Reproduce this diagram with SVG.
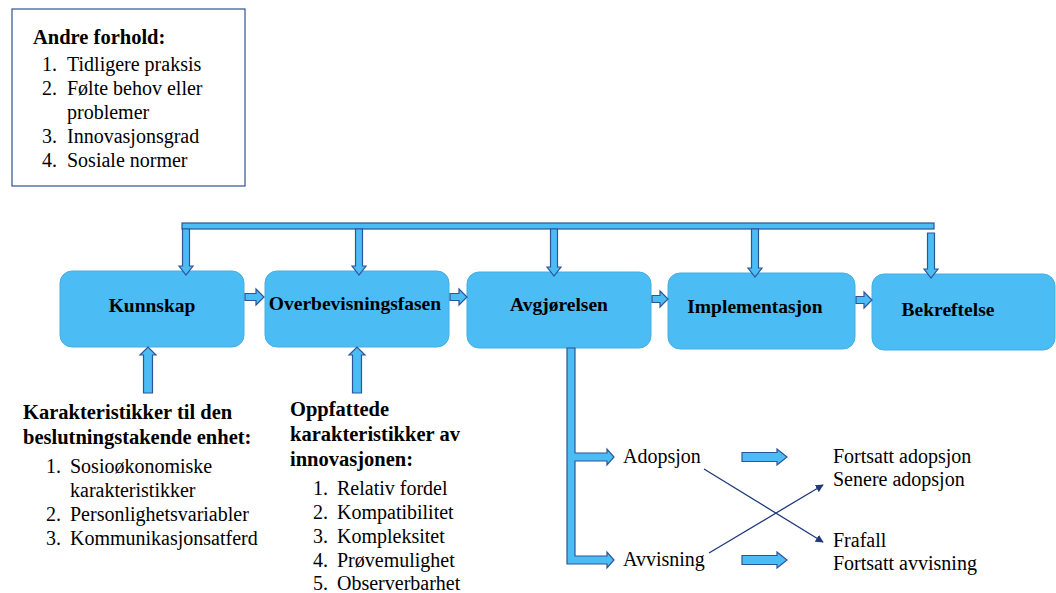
<svg xmlns="http://www.w3.org/2000/svg" width="1056" height="593" viewBox="0 0 1056 593">
<style>
.box{fill:#4CBCF4;stroke:#45AEE3;stroke-width:1}
.arr{fill:#4CBCF4;stroke:#2E5597;stroke-width:1.2;stroke-linejoin:miter}
.lbl{font-family:"Liberation Serif","Times New Roman",Tinos,"DejaVu Serif",serif;font-weight:bold;font-size:19.5px;fill:#000;text-anchor:middle}
.t{font-family:"Liberation Serif","Times New Roman",Tinos,"DejaVu Serif",serif;font-size:20px;fill:#000}
.tb{font-family:"Liberation Serif","Times New Roman",Tinos,"DejaVu Serif",serif;font-size:20.5px;font-weight:bold;fill:#000}
.ln{stroke:#1F3A78;stroke-width:1.3;fill:none;marker-end:url(#ah)}
</style>
<defs>
<marker id="ah" viewBox="0 0 10 10" refX="9" refY="5" markerWidth="8" markerHeight="8" markerUnits="userSpaceOnUse" orient="auto">
<path d="M0,0 L10,5 L0,10 Z" fill="#1F3A78"/>
</marker>
</defs>
<rect width="1056" height="593" fill="#fff"/>

<g id="andre-forhold">
<rect x="12" y="9" width="233" height="177" fill="#fff" stroke="#2F528F" stroke-width="1.2"/>
<text class="tb" x="33" y="44">Andre forhold:</text>
<text class="t" x="42" y="71">1.</text><text class="t" x="67" y="71">Tidligere praksis</text>
<text class="t" x="42" y="95">2.</text><text class="t" x="67" y="95">Følte behov eller</text>
<text class="t" x="67" y="119">problemer</text>
<text class="t" x="42" y="143">3.</text><text class="t" x="67" y="143">Innovasjonsgrad</text>
<text class="t" x="42" y="167">4.</text><text class="t" x="67" y="167">Sosiale normer</text>
</g>

<g id="kunnskap">
<rect class="box" x="60" y="271" width="184" height="76" rx="12"/>
<text class="lbl" x="152" y="312">Kunnskap</text>
</g>
<g id="overbevisningsfasen">
<rect class="box" x="265" y="271" width="184" height="76" rx="12"/>
<text class="lbl" x="355" y="310">Overbevisningsfasen</text>
</g>
<g id="avgjorelsen">
<rect class="box" x="467" y="272" width="184" height="76" rx="12"/>
<text class="lbl" x="559" y="311">Avgjørelsen</text>
</g>
<g id="implementasjon">
<rect class="box" x="668" y="273" width="187" height="76" rx="12"/>
<text class="lbl" x="755" y="313">Implementasjon</text>
</g>
<g id="bekreftelse">
<rect class="box" x="872" y="274" width="183" height="76" rx="12"/>
<text class="lbl" x="948" y="316">Bekreftelse</text>
</g>

<g id="connectors">
<rect class="arr" x="182" y="223" width="752" height="6"/>
<path class="arr" d="M182.5,229 H189.5 V266 H193 L186,275 L179,266 H182.5 Z"/>
<path class="arr" d="M355.5,229 H362.5 V266 H366 L359,275 L352,266 H355.5 Z"/>
<path class="arr" d="M550.5,229 H557.5 V267 H561 L554,276 L547,267 H550.5 Z"/>
<path class="arr" d="M751.5,229 H758.5 V268 H762 L755,277 L748,268 H751.5 Z"/>
<path class="arr" d="M927.5,233 H934.5 V269 H938 L931,278 L924,269 H927.5 Z"/>

<path class="arr" d="M245,293.5 H256 V289 L264,297 L256,305 V300.5 H245 Z"/>
<path class="arr" d="M450,293.5 H459 V289 L467,297 L459,305 V300.5 H450 Z"/>
<path class="arr" d="M652,295.5 H660 V291 L668,299 L660,307 V302.5 H652 Z"/>
<path class="arr" d="M856,296.5 H864 V292 L872,300 L864,308 V303.5 H856 Z"/>

<path class="arr" d="M143.5,393 V355 H140 L148,347 L156,355 H152.5 V393 Z"/>
<path class="arr" d="M352.5,393 V355 H349 L357,347 L365,355 H361.5 V393 Z"/>

<path class="arr" d="M567,348 H575 V453 H607 V449 L614,457 L607,465 V461 H575 V556 H607 V552 L614,560 L607,568 V564 H567 Z"/>

<path class="arr" d="M742,452.5 H777 V449 L787,457 L777,465 V461.5 H742 Z"/>
<path class="arr" d="M742,555.5 H777 V552 L787,560 L777,568 V564.5 H742 Z"/>

<line class="ln" x1="704" y1="469" x2="823" y2="542"/>
<line class="ln" x1="709" y1="553" x2="823" y2="485"/>
</g>

<g id="beslutningstakende">
<text class="tb" x="23" y="419">Karakteristikker til den</text>
<text class="tb" x="23" y="444">beslutningstakende enhet:</text>
<text class="t" x="46" y="473">1.</text><text class="t" x="70" y="473">Sosioøkonomiske</text>
<text class="t" x="70" y="497">karakteristikker</text>
<text class="t" x="46" y="521">2.</text><text class="t" x="70" y="521">Personlighetsvariabler</text>
<text class="t" x="46" y="545">3.</text><text class="t" x="70" y="545">Kommunikasjonsatferd</text>
</g>

<g id="oppfattede">
<text class="tb" x="290" y="416">Oppfattede</text>
<text class="tb" x="290" y="441">karakteristikker av</text>
<text class="tb" x="290" y="466">innovasjonen:</text>
<text class="t" x="313" y="495">1.</text><text class="t" x="337" y="495">Relativ fordel</text>
<text class="t" x="313" y="519">2.</text><text class="t" x="337" y="519">Kompatibilitet</text>
<text class="t" x="313" y="543">3.</text><text class="t" x="337" y="543">Kompleksitet</text>
<text class="t" x="313" y="567">4.</text><text class="t" x="337" y="567">Prøvemulighet</text>
<text class="t" x="313" y="590">5.</text><text class="t" x="337" y="590">Observerbarhet</text>
</g>

<g id="adopsjon"><text class="t" x="623" y="463">Adopsjon</text></g>
<g id="avvisning"><text class="t" x="623" y="566">Avvisning</text></g>
<g id="fortsatt-adopsjon">
<text class="t" x="833" y="463">Fortsatt adopsjon</text>
<text class="t" x="833" y="486">Senere adopsjon</text>
</g>
<g id="frafall">
<text class="t" x="833" y="547">Frafall</text>
<text class="t" x="833" y="570">Fortsatt avvisning</text>
</g>
</svg>
